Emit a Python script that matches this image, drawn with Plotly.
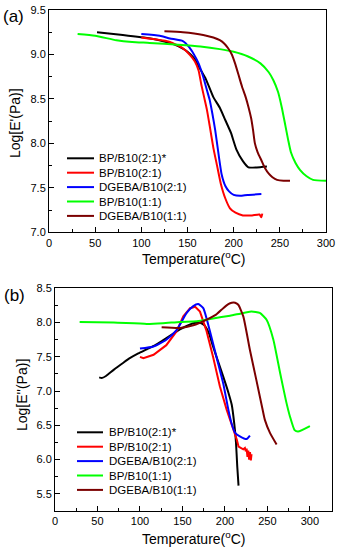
import plotly.graph_objects as go

# ---------------- data ----------------
names = ["BP/B10(2:1)*", "BP/B10(2:1)", "DGEBA/B10(2:1)", "BP/B10(1:1)", "DGEBA/B10(1:1)"]
colors = ["#000000", "#ff0000", "#0000ff", "#00ff00", "#7b0000"]

# Panel (a): Log E'
a_black_T = [52, 80, 110, 127, 136, 144, 150, 157, 164, 170, 178, 185, 191, 197, 203, 210, 216, 225, 236]
a_black_y = [9.25, 9.22, 9.18, 9.14, 9.11, 9.07, 9.03, 8.96, 8.83, 8.72, 8.52, 8.40, 8.26, 8.12, 7.93, 7.80, 7.73, 7.73, 7.74]

a_red_T = [100, 115, 131, 145, 153, 158, 162, 165, 168, 171, 174, 178, 182, 186, 191, 196, 202, 210, 220, 228, 230, 231]
a_red_y = [9.19, 9.17, 9.14, 9.07, 8.99, 8.92, 8.82, 8.66, 8.52, 8.38, 8.20, 7.95, 7.75, 7.55, 7.38, 7.27, 7.22, 7.19, 7.19, 7.20, 7.17, 7.21]

a_blue_T = [100, 120, 131, 145, 152, 157, 162, 167, 171, 174, 177, 180, 184, 187, 191, 195, 200, 207, 215, 230]
a_blue_y = [9.23, 9.21, 9.18, 9.15, 9.08, 9.00, 8.90, 8.75, 8.60, 8.49, 8.33, 8.15, 7.85, 7.65, 7.52, 7.46, 7.42, 7.41, 7.42, 7.43]

a_green_T = [31, 50, 73, 90, 109, 140, 164, 185, 200, 215, 229, 238, 243, 248, 252, 256, 259, 262, 267, 272, 279, 286, 300]
a_green_y = [9.23, 9.21, 9.16, 9.14, 9.13, 9.11, 9.09, 9.06, 9.03, 8.98, 8.90, 8.80, 8.71, 8.58, 8.41, 8.20, 8.04, 7.90, 7.78, 7.70, 7.63, 7.59, 7.58]

a_dred_T = [125, 145, 167, 178, 185, 190, 194, 198, 201.5, 205, 209, 213, 216, 219, 221, 223, 226, 230, 234, 238, 242, 247, 254, 261]
a_dred_y = [9.26, 9.25, 9.22, 9.19, 9.16, 9.12, 9.07, 9.00, 8.90, 8.78, 8.64, 8.52, 8.41, 8.28, 8.15, 8.00, 7.90, 7.81, 7.72, 7.66, 7.62, 7.59, 7.58, 7.58]

# Panel (b): Log E''
b_black_T = [52, 55, 60, 69, 80, 88, 98, 108, 118, 127, 137, 147, 155, 163, 169, 175, 181, 186, 192, 198, 204, 208, 211, 213, 214.5, 216]
b_black_y = [7.20, 7.19, 7.22, 7.31, 7.41, 7.48, 7.55, 7.61, 7.67, 7.74, 7.82, 7.90, 7.95, 7.99, 8.00, 7.97, 7.85, 7.65, 7.43, 7.21, 6.98, 6.80, 6.52, 6.25, 5.90, 5.62]

b_red_T = [100, 104, 116, 131, 143, 151, 159, 165, 170.6, 178, 186, 194, 202, 206, 210, 214, 216, 219.6, 221.6, 223.5, 224.5, 225.5, 226.5, 227.5, 228.5, 229.5, 230.5, 231.3]
b_red_y = [7.50, 7.48, 7.53, 7.67, 7.87, 8.09, 8.21, 8.23, 8.16, 7.89, 7.50, 7.07, 6.73, 6.58, 6.46, 6.29, 6.19, 6.17, 6.15, 6.17, 6.12, 6.16, 6.04, 6.13, 6.00, 6.11, 5.99, 6.08]

b_blue_T = [100, 116, 131, 143, 155, 162.7, 168.6, 174.5, 182, 190, 198, 204, 208, 212, 217.6, 225.5, 229.4]
b_blue_y = [7.62, 7.65, 7.75, 7.89, 8.14, 8.24, 8.27, 8.21, 7.89, 7.50, 7.11, 6.73, 6.52, 6.39, 6.34, 6.30, 6.35]

b_green_T = [29, 69, 108, 127, 147, 167, 186, 206, 218, 231, 241, 249, 257, 265, 272, 276.5, 282, 286, 300]
b_green_y = [8.01, 8.00, 7.98, 7.99, 8.01, 8.02, 8.06, 8.10, 8.13, 8.16, 8.14, 8.04, 7.75, 7.26, 6.85, 6.63, 6.43, 6.41, 6.49]

b_dred_T = [125.5, 147, 162.7, 178, 190, 198, 204, 208, 212, 215.7, 221.6, 229.4, 237, 244, 247, 253, 260.8]
b_dred_y = [7.93, 7.92, 7.96, 8.04, 8.12, 8.21, 8.27, 8.29, 8.29, 8.26, 8.09, 7.60, 7.16, 6.75, 6.58, 6.39, 6.22]

a_T = [a_black_T, a_red_T, a_blue_T, a_green_T, a_dred_T]
a_Y = [a_black_y, a_red_y, a_blue_y, a_green_y, a_dred_y]
b_T = [b_black_T, b_red_T, b_blue_T, b_green_T, b_dred_T]
b_Y = [b_black_y, b_red_y, b_blue_y, b_green_y, b_dred_y]

x_ticks = [0, 50, 100, 150, 200, 250, 300]
a_yticks = [7.0, 7.5, 8.0, 8.5, 9.0, 9.5]
b_yticks = [5.5, 6.0, 6.5, 7.0, 7.5, 8.0, 8.5]

# ---------------- figure ----------------
W, H = 338, 550
FONT = "Arial, 'Liberation Sans', sans-serif"

fig = go.Figure()
for i in range(5):
    fig.add_trace(go.Scatter(x=a_T[i], y=a_Y[i], mode="lines", name=names[i],
                             line=dict(color=colors[i], width=2, shape="spline", smoothing=0.5),
                             xaxis="x", yaxis="y", showlegend=False))
for i in range(5):
    shape = "linear" if i == 1 else "spline"
    fig.add_trace(go.Scatter(x=b_T[i], y=b_Y[i], mode="lines", name=names[i],
                             line=dict(color=colors[i], width=2, shape=shape, smoothing=0.5),
                             xaxis="x2", yaxis="y2", showlegend=False))

def px(v):
    return v / W

def py(v):
    return 1 - v / H

axis_common = dict(
    automargin=False,
    showgrid=False, zeroline=False, showline=True, linecolor="black", linewidth=1,
    mirror=True, ticks="inside", ticklen=5, tickwidth=1, tickcolor="black",
    tickfont=dict(family=FONT, size=11, color="black"),
    minor=dict(ticks="inside", ticklen=3, tickwidth=1, tickcolor="black", showgrid=False),
)

fig.update_layout(
    width=W, height=H,
    margin=dict(l=0, r=0, t=0, b=0, autoexpand=False),
    paper_bgcolor="white", plot_bgcolor="white",
    xaxis=dict(domain=[px(49), px(326)], anchor="y", range=[0, 300],
               tickvals=x_ticks, minor_dtick=25, **axis_common),
    yaxis=dict(domain=[py(232.3), py(10)], anchor="x", range=[7.0, 9.5],
               tickvals=a_yticks, ticktext=[f"{v:.1f}" for v in a_yticks], minor_dtick=0.25, **axis_common),
    xaxis2=dict(domain=[px(55), px(332)], anchor="y2", range=[0, 326],
                tickvals=x_ticks, minor_dtick=25, **axis_common),
    yaxis2=dict(domain=[py(511), py(288.3)], anchor="x2", range=[5.25, 8.5],
                tickvals=b_yticks, ticktext=[f"{v:.1f}" for v in b_yticks], minor_dtick=0.25, **axis_common),
    font=dict(family=FONT, color="black"),
)

ann = []
# panel labels
ann.append(dict(text="(a)", x=px(1), y=py(17), xref="paper", yref="paper", xanchor="left", yanchor="middle",
                showarrow=False, font=dict(size=17, family=FONT)))
ann.append(dict(text="(b)", x=px(2), y=py(295), xref="paper", yref="paper", xanchor="left", yanchor="middle",
                showarrow=False, font=dict(size=17, family=FONT)))
# axis titles
ann.append(dict(text="Temperature(<sup>o</sup>C)", x=px(194), y=py(258), xref="paper", yref="paper",
                xanchor="center", yanchor="middle", showarrow=False, font=dict(size=14, family=FONT)))
ann.append(dict(text="Temperature(<sup>o</sup>C)", x=px(194), y=py(538), xref="paper", yref="paper",
                xanchor="center", yanchor="middle", showarrow=False, font=dict(size=14, family=FONT)))
ann.append(dict(text="Log[E'(Pa)]", x=px(15), y=py(123), xref="paper", yref="paper", textangle=-90,
                xanchor="center", yanchor="middle", showarrow=False, font=dict(size=14, family=FONT)))
ann.append(dict(text="Log[E''(Pa)]", x=px(22), y=py(395), xref="paper", yref="paper", textangle=-90,
                xanchor="center", yanchor="middle", showarrow=False, font=dict(size=14, family=FONT)))

shapes = []
# manual legends (paper coordinates)
for (lx0, lx1, tx, y0) in [(67, 94, 97, 158.3), (77, 103, 107, 432.3)]:
    for i in range(5):
        yy = y0 + 14.4 * i
        shapes.append(dict(type="line", xref="paper", yref="paper", x0=px(lx0), x1=px(lx1),
                           y0=py(yy), y1=py(yy), line=dict(color=colors[i], width=2)))
        ann.append(dict(text=names[i], x=px(tx), y=py(yy), xref="paper", yref="paper",
                        xanchor="left", yanchor="middle", showarrow=False,
                        font=dict(size=11.5, family=FONT, color="black")))

fig.update_layout(annotations=ann, shapes=shapes)
fig.write_html("out.html", config={"displayModeBar": False},
               post_script="document.body.style.margin='0';")
